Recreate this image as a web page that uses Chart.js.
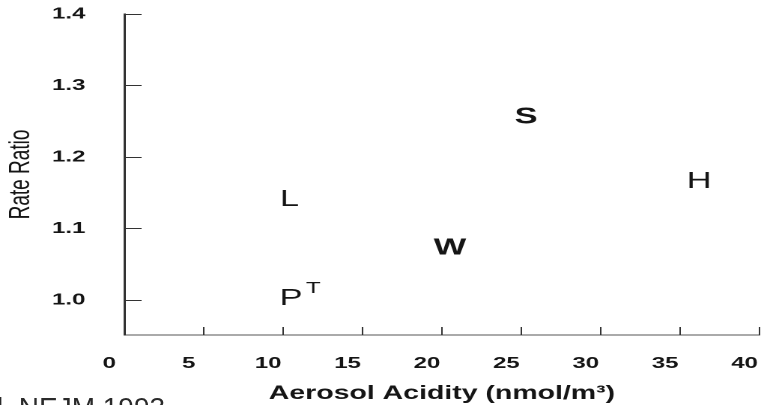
<!DOCTYPE html>
<html>
<head>
<meta charset="utf-8">
<script src="https://cdn.jsdelivr.net/npm/chart.js@4.4.1/dist/chart.umd.min.js"></script>
<style>
html, body { margin: 0; padding: 0; background: #fff; overflow: hidden; }
#wrap { position: relative; width: 764px; height: 405px; }
#plot { position: absolute; left: 0; top: 0; }
#source { position: absolute; left: -3px; top: 394px; font: 28px/28px 'Liberation Sans', Arial, sans-serif; color: #2a2a2a; white-space: nowrap; }
</style>
</head>
<body>
<div id="wrap">
  <!-- the scanned figure is stretched sideways, so the canvas is drawn narrow and widened by css -->
  <canvas id="plot" width="510" height="405" style="width:764px;height:405px"></canvas>
  <div id="source">l. NEJM 1993</div>
</div>
<script>
// Dữ liệu: thành phố (chữ cái), độ axit aerosol, tỉ số tỉ suất
const letters = ['L', 'P', 'T', 'W', 'S', 'H'];
const acidity = [10.4, 10.5, 11.9, 20.5, 25.3, 36.2];
const rateRatio = [1.142, 1.003, 1.017, 1.074, 1.257, 1.167];
const xTicks = [0, 5, 10, 15, 20, 25, 30, 35, 40];
const yTicks = [1.0, 1.1, 1.2, 1.3, 1.4];

const boldLetters = ['S', 'W'];
const smallLetters = ['T'];
const FONT = "'Liberation Sans', Arial, sans-serif";
const ink = '#151515';

// Vẽ chữ cái tại vị trí mỗi điểm
const letterMarks = {
	id: 'letterMarks',
	afterDatasetsDraw(chart) {
		const ctx = chart.ctx;
		const meta = chart.getDatasetMeta(0);
		ctx.save();
		ctx.fillStyle = ink;
		ctx.textAlign = 'center';
		ctx.textBaseline = 'middle';
		meta.data.forEach((pt, i) => {
			const ch = letters[i];
			const size = smallLetters.includes(ch) ? 16 : 23;
			const weight = boldLetters.includes(ch) ? 'bold' : 'normal';
			ctx.font = `${weight} ${size}px ${FONT}`;
			ctx.fillText(ch, pt.x, pt.y + 1);
		});
		ctx.restore();
	}
};

// Vạch chia hướng vào trong
const innerTicks = {
	id: 'innerTicks',
	afterDraw(chart) {
		const { ctx, chartArea: a, scales: { x, y } } = chart;
		ctx.save();
		ctx.strokeStyle = '#333';
		ctx.lineWidth = 1;
		ctx.beginPath();
		y.ticks.forEach(t => {
			const py = Math.round(y.getPixelForValue(t.value)) + 0.5;
			ctx.moveTo(a.left, py);
			ctx.lineTo(a.left + 11.5, py);
		});
		x.ticks.forEach(t => {
			if (t.value === 0) return;
			const px = x.getPixelForValue(t.value);
			ctx.moveTo(px, a.bottom);
			ctx.lineTo(px, a.bottom - 8);
		});
		ctx.stroke();
		ctx.restore();
	}
};

new Chart(document.getElementById('plot'), {
	type: 'scatter',
	data: {
		datasets: [{
			label: 'Rate Ratio',
			data: acidity.map((v, i) => ({ x: v, y: rateRatio[i] })),
			pointRadius: 0,
			pointHoverRadius: 0
		}]
	},
	options: {
		responsive: false,
		animation: false,
		devicePixelRatio: 2,
		layout: { padding: { top: 14, right: 3, left: 0, bottom: 0 } },
		plugins: { legend: { display: false }, tooltip: { enabled: false } },
		scales: {
			x: {
				type: 'linear',
				position: 'bottom',
				min: 0,
				max: 40,
				grid: { display: false },
				border: { color: '#555', width: 1 },
				afterBuildTicks: s => { s.ticks = xTicks.map(v => ({ value: v })); },
				afterFit: s => { s.height = 70; s.paddingLeft = 0; s.paddingRight = 0; },
				ticks: {
					color: ink,
					font: { family: FONT, size: 16, weight: 'bold' },
					padding: 11,
					labelOffset: -10,
					maxRotation: 0,
					autoSkip: false
				},
				title: {
					display: true,
					text: 'Aerosol Acidity (nmol/m³)',
					color: ink,
					font: { family: FONT, size: 19, weight: 'bold' },
					padding: { top: 0, bottom: 0 }
				}
			},
			y: {
				type: 'linear',
				min: 0.951,
				max: 1.4,
				grid: { display: false },
				border: { color: '#333', width: 1.5 },
				afterBuildTicks: s => { s.ticks = yTicks.map(v => ({ value: v })); },
				afterFit: s => { s.width = 83; s.paddingTop = 0; s.paddingBottom = 0; },
				ticks: {
					color: ink,
					font: { family: FONT, size: 16, weight: 'bold' },
					padding: 18,
					callback: v => Number(v).toFixed(1)
				},
				title: {
					display: true,
					text: 'Rate Ratio',
					color: ink,
					font: { family: FONT, size: 19 },
					padding: { top: 3, bottom: 0 }
				}
			}
		}
	},
	plugins: [letterMarks, innerTicks]
});
</script>
</body>
</html>
